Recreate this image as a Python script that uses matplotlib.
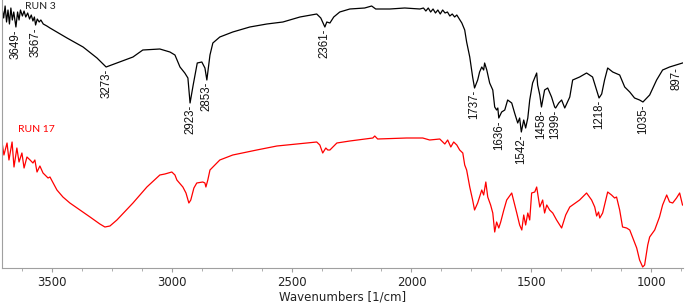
import matplotlib.pyplot as plt
import numpy as np

# RUN 3 spectrum (wavenumber, transmittance in arbitrary units)
wn3 = [3707, 3700, 3694, 3688, 3682, 3676, 3670, 3664, 3658, 3649, 3642, 3636, 3630,
       3622, 3615, 3608, 3600, 3592, 3585, 3578, 3572, 3567, 3560, 3552, 3545, 3535,
       3520, 3507, 3436, 3369, 3311, 3273, 3228, 3161, 3120, 3049, 3007, 2986, 2965,
       2945, 2932, 2923, 2910, 2893, 2874, 2861, 2853, 2840, 2828, 2799, 2745, 2674,
       2603, 2536, 2465, 2395, 2378, 2361, 2353, 2340, 2324, 2299, 2257, 2195, 2166,
       2149, 2090, 2028, 1965, 1950, 1940, 1930, 1920, 1910, 1900, 1890, 1880, 1870,
       1860, 1850, 1840, 1830, 1820, 1811, 1790, 1778, 1770, 1757, 1745, 1737, 1724,
       1716, 1707, 1699, 1695, 1686, 1674, 1661, 1653, 1645, 1640, 1636, 1624, 1611,
       1599, 1582, 1570, 1557, 1549, 1542, 1532, 1524, 1515, 1507, 1495, 1478, 1474,
       1465, 1458, 1445, 1432, 1416, 1403, 1399, 1386, 1374, 1361, 1340, 1328, 1299,
       1270, 1245, 1228, 1218, 1207, 1195, 1182, 1161, 1132, 1111, 1090, 1070, 1049,
       1035, 1007, 978, 953, 924, 897, 870]
t3 = [260, 250, 262, 246, 258, 244, 260, 248, 256, 241, 256, 248, 258,
      252, 257, 251, 255, 249, 253, 247, 251, 243, 249, 246, 248, 244,
      242, 240, 230, 221, 210, 201, 205, 211, 218, 219, 216, 213, 201,
      195, 190, 165, 183, 205, 206, 200, 188, 213, 225, 231, 236, 241,
      244, 246, 251, 254, 250, 241, 246, 245, 251, 256, 259, 260, 262,
      259, 259, 260, 259, 260, 257, 260, 256, 259, 255, 258, 254, 258,
      255, 256, 252, 254, 251, 253, 245, 238, 226, 211, 191, 180, 188,
      196, 201, 198, 205, 198, 185, 178, 161, 158, 160, 150, 156, 158,
      168, 165, 155, 145, 150, 136, 148, 140, 150, 168, 185, 195, 183,
      173, 161, 178, 180, 171, 161, 160, 165, 168, 160, 171, 188, 191,
      195, 191, 178, 170, 174, 188, 200, 196, 193, 181, 176, 170, 168,
      166, 173, 188, 198, 201, 203, 205]

# RUN 17 spectrum
wn17 = [3707, 3699, 3686, 3678, 3665, 3657, 3645, 3636, 3624, 3615, 3603, 3590, 3578,
        3570, 3561, 3549, 3536, 3515, 3507, 3478, 3453, 3424, 3394, 3340, 3299, 3278,
        3257, 3228, 3161, 3103, 3049, 3028, 2999, 2986, 2978, 2953, 2940, 2928, 2920,
        2907, 2895, 2870, 2861, 2857, 2849, 2840, 2799, 2745, 2645, 2561, 2395, 2382,
        2370, 2357, 2349, 2340, 2311, 2257, 2161, 2153, 2141, 2020, 1953, 1924, 1882,
        1861, 1849, 1836, 1824, 1811, 1799, 1786, 1778, 1770, 1757, 1745, 1737, 1724,
        1716, 1707, 1699, 1690, 1682, 1670, 1661, 1653, 1645, 1636, 1628, 1615, 1603,
        1582, 1561, 1549, 1540, 1532, 1524, 1515, 1507, 1499, 1486, 1478, 1465, 1453,
        1445, 1436, 1424, 1411, 1395, 1374, 1357, 1340, 1299, 1270, 1249, 1236, 1228,
        1220, 1215, 1203, 1190, 1182, 1166, 1153, 1145, 1132, 1120, 1103, 1090, 1074,
        1061, 1049, 1036, 1028, 1015, 1007, 986, 966, 953, 936, 924, 911, 895, 882, 870]
t17 = [126, 113, 125, 108, 126, 101, 120, 106, 115, 100, 111, 108, 105,
       108, 96, 102, 95, 90, 91, 78, 71, 65, 60, 51, 44, 41,
       42, 48, 65, 81, 93, 94, 96, 93, 88, 81, 75, 65, 68,
       80, 85, 86, 85, 81, 88, 98, 108, 113, 118, 122, 126, 123,
       115, 120, 118, 118, 125, 127, 130, 132, 129, 130, 130, 128, 129,
       124, 128, 121, 126, 123, 118, 115, 103, 98, 81, 68, 58, 65,
       71, 78, 73, 86, 71, 63, 55, 36, 46, 40, 46, 58, 68,
       75, 55, 43, 38, 53, 43, 55, 48, 75, 76, 81, 61, 68,
       55, 63, 58, 55, 48, 40, 53, 61, 68, 75, 68, 61, 52,
       56, 50, 55, 68, 76, 73, 70, 71, 58, 41, 40, 38, 28,
       20, 8, 1, 3, 23, 31, 38, 51, 63, 73, 66, 65, 70, 75, 63]

peaks3 = [3649, 3567, 3273, 2923, 2853, 2361, 1737, 1636, 1542, 1458, 1399, 1218, 1035, 897]

fig = plt.figure(figsize=(6.85, 3.05), dpi=100)
ax = fig.add_axes([2/685, 37/305, 681/685, 268/305])

ax.plot(wn3, t3, color='k', lw=0.9)
ax.plot(wn17, t17, color='#ff0000', lw=0.9)

# peak labels under the RUN 3 curve
for p in peaks3:
    yv = np.interp(p, wn3[::-1], t3[::-1])
    ax.annotate(str(p) + '-', (p, yv), xytext=(0, -1.5), textcoords='offset points',
                rotation=90, ha='center', va='top', fontsize=8.3,
                family='Liberation Sans', color='#111111')

ax.text(0.034, 0.974, 'RUN 3', transform=ax.transAxes, fontsize=7.5,
        family='Lato', va='center', color='#222222')
ax.text(0.0235, 0.515, 'RUN 17', transform=ax.transAxes, fontsize=7.5,
        family='Lato', va='center', color='#ff0000')

ax.set_xlim(3707, 868)
ax.set_ylim(0, 268)
ax.set_xticks([3500, 3000, 2500, 2000, 1500, 1000])
ax.set_xticks(np.arange(875, 3707, 125), minor=True)
ax.set_yticks([])
for s in ['top', 'right']:
    ax.spines[s].set_visible(False)
for s in ['left', 'bottom']:
    ax.spines[s].set_color('#a0a0a0')
    ax.spines[s].set_linewidth(0.8)
ax.tick_params(axis='x', which='major', length=3, color='#a0a0a0', pad=3,
               labelsize=8.5, labelcolor='#222222')
ax.tick_params(axis='x', which='minor', length=2.5, color='#a0a0a0')
ax.set_xlabel('Wavenumbers [1/cm]', fontsize=8.5, color='#222222', labelpad=1)

fig.savefig('out.png', dpi=100)
